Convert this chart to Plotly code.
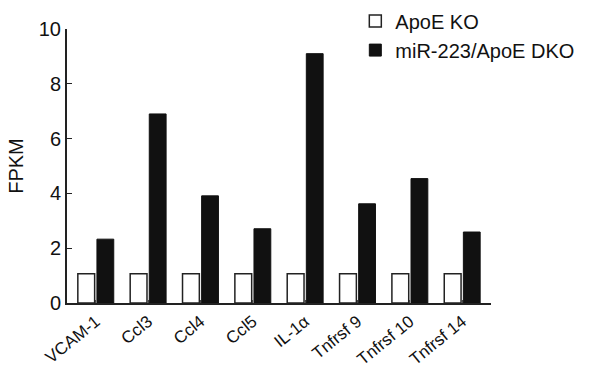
import plotly.graph_objects as go

categories = ["VCAM-1", "Ccl3", "Ccl4", "Ccl5", "IL-1α", "Tnfrsf 9", "Tnfrsf 10", "Tnfrsf 14"]
apoe_ko = [1.07, 1.07, 1.07, 1.07, 1.07, 1.07, 1.07, 1.07]
dko = [2.33, 6.9, 3.91, 2.71, 9.1, 3.62, 4.54, 2.59]
y_ticks = [0, 2, 4, 6, 8, 10]

FONT = "Liberation Sans, Arial, sans-serif"

fig = go.Figure()
fig.add_trace(go.Bar(x=categories, y=apoe_ko, name="ApoE KO",
                     marker=dict(color="white", line=dict(color="#222", width=1.5))))
fig.add_trace(go.Bar(x=categories, y=dko, name="miR-223/ApoE DKO",
                     marker=dict(color="#111", line=dict(color="#111", width=1))))

fig.update_layout(
    width=590, height=370,
    margin=dict(l=67, r=99, t=29, b=67, autoexpand=False),
    plot_bgcolor="white", paper_bgcolor="white",
    barmode="group", bargap=0.27, bargroupgap=0.12,
    font=dict(family=FONT, size=19, color="#111"),
    showlegend=True,
    legend=dict(x=0.68, y=1.1, xanchor="left", yanchor="top",
                font=dict(size=20), itemwidth=30, tracegroupgap=0,
                bgcolor="rgba(0,0,0,0)"),
    xaxis=dict(showline=True, linecolor="#222", linewidth=2,
               ticks="inside", ticklen=3, tickcolor="#444",
               tickangle=-39, tickfont=dict(size=17),
               range=[-0.55, 7.55]),
    yaxis=dict(showline=True, linecolor="#222", linewidth=2,
               range=[0, 10], tickvals=y_ticks, ticks="inside", ticklen=5,
               tickcolor="#222", showgrid=False, zeroline=False,
               tickfont=dict(size=20),
               title=dict(text="FPKM", font=dict(size=20), standoff=10)),
)

fig.write_html("out.html", config={"displayModeBar": False},
               post_script="document.body.style.margin='0';document.body.style.overflow='hidden';")
